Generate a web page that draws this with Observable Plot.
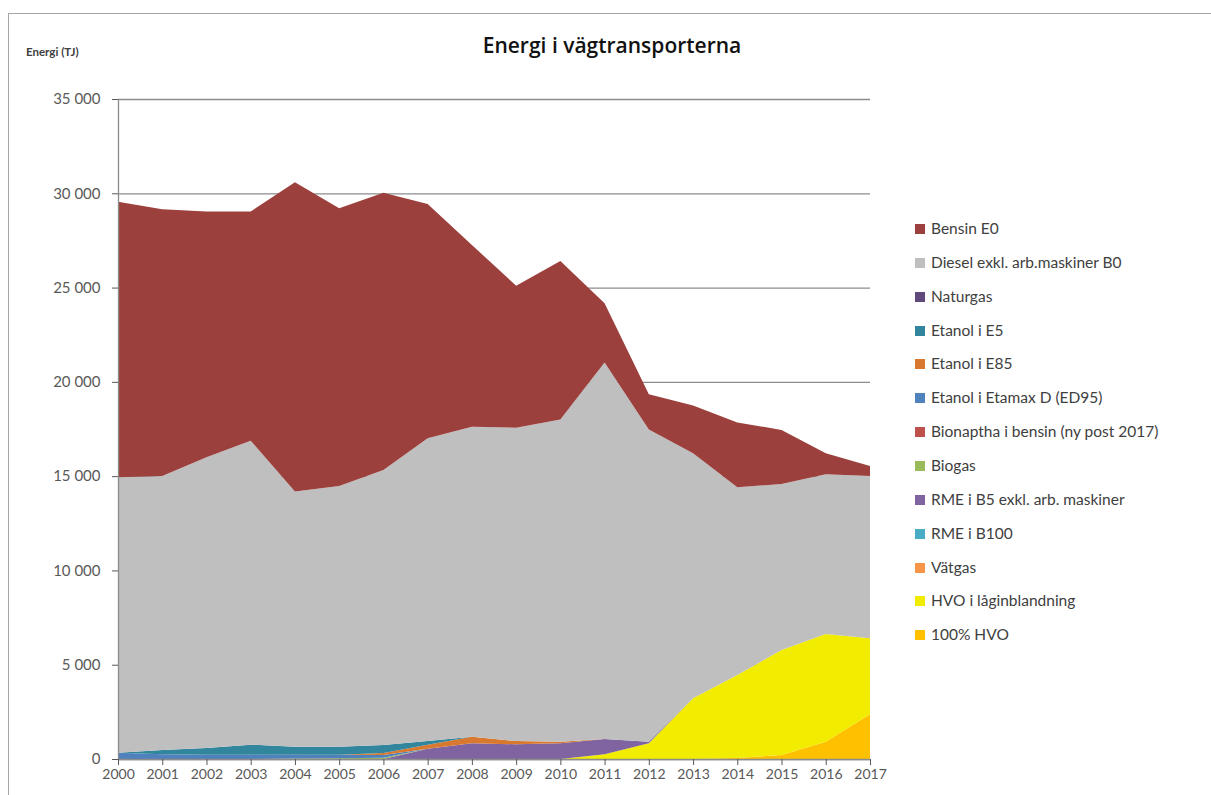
<!DOCTYPE html>
<html>
<head>
<meta charset="utf-8">
<script src="https://cdn.jsdelivr.net/npm/d3@7"></script>
<script src="https://cdn.jsdelivr.net/npm/@observablehq/plot@0.6"></script>
<style>
  body { margin: 0; background: #fff; font-family: Lato, "Open Sans", sans-serif; }
  #wrap { position: relative; width: 1211px; height: 795px; overflow: hidden; }
  #frame { position: absolute; left: 8px; top: 13px; width: 1220px; height: 800px;
           border-left: 1px solid #a6a6a6; border-top: 1px solid #a6a6a6; }
  #title { position: absolute; left: 0; width: 1224px; top: 30px; text-align: center;
           font-family: "Open Sans", Lato, sans-serif;
           font-size: 21px; font-weight: 600; color: #111; line-height: 30px; }
  #ylabel { position: absolute; left: 26px; top: 45px; font-size: 11.5px; font-weight: 700; color: #404040; }
  #chart { position: absolute; left: 0; top: 80px; }
  #legend { position: absolute; left: 915px; top: 0; }
  .item { position: absolute; left: 0; white-space: nowrap; font-size: 15.5px; color: #404040; line-height: 20px; height: 20px; }
  .sw { display: inline-block; width: 10px; height: 10px; margin-right: 6px; vertical-align: 0px; }
</style>
</head>
<body>
<div id="wrap">
  <div id="frame"></div>
  <div id="title">Energi i vägtransporterna</div>
  <div id="ylabel">Energi (TJ)</div>
  <div id="chart"></div>
  <div id="legend"></div>
</div>
<script>
const years = [2000,2001,2002,2003,2004,2005,2006,2007,2008,2009,2010,2011,2012,2013,2014,2015,2016,2017];
const yTicks = [0,5000,10000,15000,20000,25000,30000,35000];

const bensinE0   = [14610,14140,13040,12160,16400,14720,14700,12420,9640,7530,8400,3150,1860,2530,3440,2870,1110,530];
const dieselB0   = [14610,14530,15420,16120,13530,13830,14590,16060,16440,16620,17090,19960,16560,12990,9960,8800,8470,8610];
const naturgas   = [0,0,0,0,0,0,0,0,0,0,0,0,0,0,0,0,0,0];
const etanolE5   = [0,230,350,540,430,430,420,200,0,0,0,0,0,0,0,0,0,0];
const etanolE85  = [0,0,0,0,0,0,110,200,350,170,90,0,0,0,0,0,0,0];
const etamaxED95 = [330,250,230,220,200,180,150,0,0,0,0,0,0,0,0,0,0,0];
const bionaptha  = [0,0,0,0,0,0,0,0,0,0,0,0,0,0,0,0,0,0];
const biogas     = [0,0,0,0,20,40,60,0,0,0,0,0,0,0,0,0,0,0];
const rmeB5      = [0,0,0,0,0,0,0,550,830,780,830,810,90,0,0,0,0,0];
const rmeB100    = [0,0,0,0,0,0,0,0,0,0,0,0,0,0,0,0,0,0];
const vatgas     = [0,0,0,0,0,0,0,0,0,0,0,0,0,0,0,0,0,0];
const hvoLag     = [0,0,0,0,0,0,0,0,0,0,0,250,830,3220,4400,5570,5710,4030];
const hvo100     = [0,0,0,0,0,0,0,0,0,0,0,0,0,0,50,210,920,2370];

// legend order (top to bottom) = stacking order from top down
const seriesNames = [
  "Bensin E0",
  "Diesel exkl. arb.maskiner B0",
  "Naturgas",
  "Etanol i E5",
  "Etanol i E85",
  "Etanol i Etamax D (ED95)",
  "Bionaptha i bensin (ny post 2017)",
  "Biogas",
  "RME i B5 exkl. arb. maskiner",
  "RME i B100",
  "Vätgas",
  "HVO i låginblandning",
  "100% HVO"
];
const seriesValues = [bensinE0, dieselB0, naturgas, etanolE5, etanolE85, etamaxED95, bionaptha, biogas, rmeB5, rmeB100, vatgas, hvoLag, hvo100];
const seriesColors = ["#9c403d","#bfbfbf","#604a7b","#31859c","#d9782f","#4f81bd","#c0504d","#9bbb59","#8064a2","#4bacc6","#f79646","#f2ec00","#ffc000"];

// long table, bottom of stack first
const rows = [];
for (let s = seriesNames.length - 1; s >= 0; s--) {
  years.forEach((yr, i) => rows.push({ year: yr, value: seriesValues[s][i], series: seriesNames[s] }));
}

const fmt = d => d === 0 ? "0" : d3.format(",")(d).replace(/,/g, " ");

const chart = Plot.plot({
  width: 900,
  height: 715,
  marginTop: 19,
  marginBottom: 36,
  marginLeft: 118,
  marginRight: 30,
  style: { fontFamily: "Lato, 'Open Sans', sans-serif", background: "transparent", overflow: "visible" },
  x: { domain: [2000, 2017] },
  y: { domain: [0, 35000] },
  color: { domain: seriesNames, range: seriesColors },
  marks: [
    Plot.gridY(yTicks, { stroke: "#8c8c8c", strokeOpacity: 1, strokeWidth: 1.3 }),
    Plot.areaY(rows, { x: "year", y: "value", z: "series", fill: "series", fillOpacity: 1, curve: "linear" }),
    Plot.ruleX([2000], { stroke: "#8c8c8c", strokeWidth: 1.3 }),
    Plot.ruleY([0], { stroke: "#8c8c8c", strokeWidth: 1.3 }),
    Plot.axisY(yTicks, { tickSize: 6, tickPadding: 12, tickFormat: fmt, fontSize: 15, color: "#595959", label: null }),
    Plot.axisX(years, { tickSize: 6, tickPadding: 4, tickFormat: d => String(d), fontSize: 14, color: "#595959", label: null })
  ]
});
document.getElementById("chart").appendChild(chart);

const legend = document.getElementById("legend");
seriesNames.forEach((name, i) => {
  const div = document.createElement("div");
  div.className = "item";
  div.style.top = (228 + i * 33.85 - 10) + "px";
  const sw = document.createElement("span");
  sw.className = "sw";
  sw.style.background = seriesColors[i];
  div.appendChild(sw);
  div.appendChild(document.createTextNode(name));
  legend.appendChild(div);
});
</script>
</body>
</html>
